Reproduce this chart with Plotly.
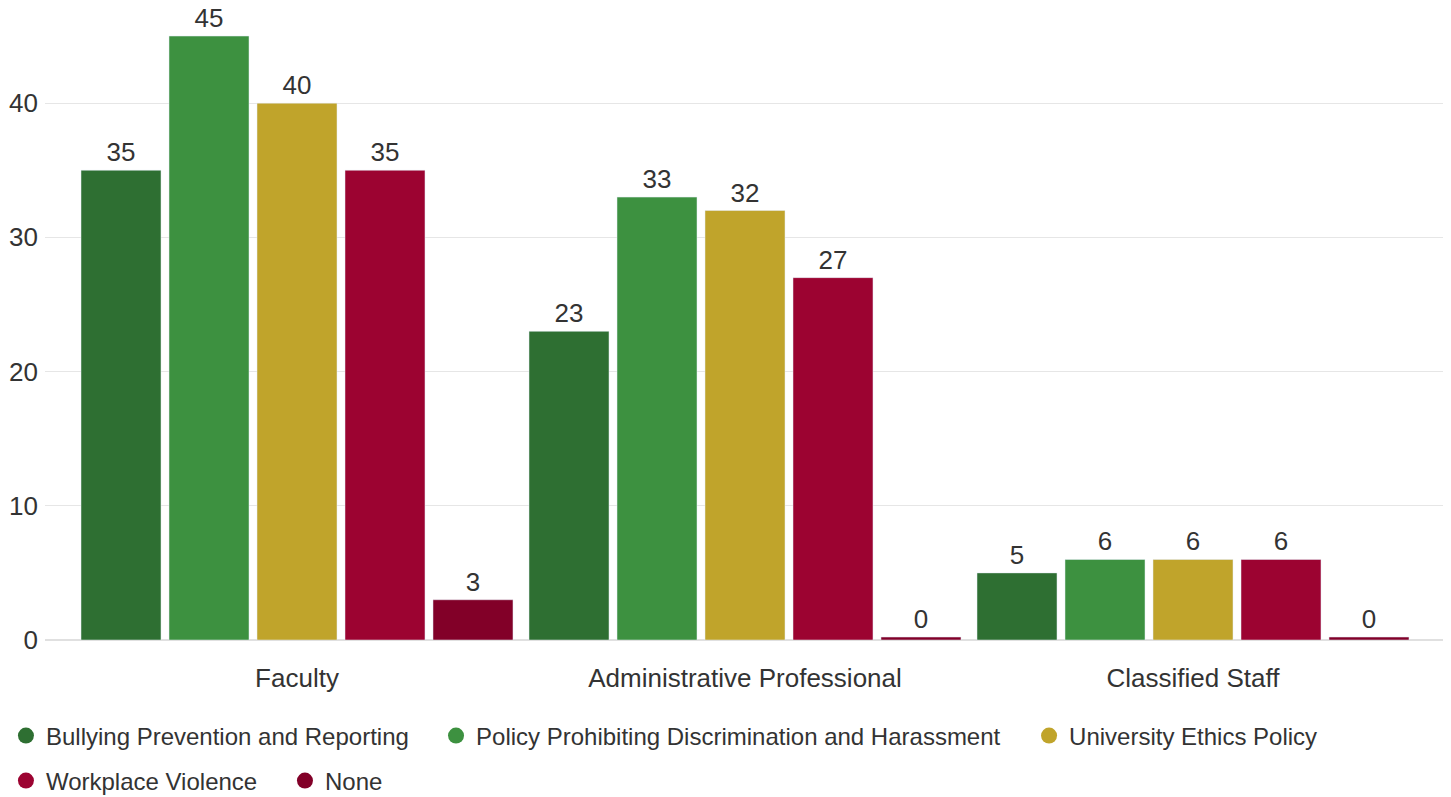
import plotly.graph_objects as go

categories = ["Faculty", "Administrative Professional", "Classified Staff"]
series_names = [
    "Bullying Prevention and Reporting",
    "Policy Prohibiting Discrimination and Harassment",
    "University Ethics Policy",
    "Workplace Violence",
    "None",
]
bullying = [35, 23, 5]
policy = [45, 33, 6]
ethics = [40, 32, 6]
violence = [35, 27, 6]
none_vals = [3, 0, 0]
series_values = [bullying, policy, ethics, violence, none_vals]
colors = ["#2E6F32", "#3D9140", "#C0A42B", "#9C0331", "#820028"]
y_ticks = [0, 10, 20, 30, 40]

FONT = "Liberation Sans, Arial, sans-serif"
TXT = "#333333"
MIN_VIS = 0.22  # minimum visible height for zero bars

# legend entry placement (paper coords): (x, y)
legend_pos = [(-0.0279, -0.1519), (0.2793, -0.1519), (0.7029, -0.1519),
              (-0.0279, -0.2231), (0.1714, -0.2231)]

fig = go.Figure()
for name, vals, col in zip(series_names, series_values, colors):
    shown = [v if v > 0 else MIN_VIS for v in vals]
    fig.add_trace(go.Bar(
        x=categories, y=shown, name=name, marker_color=col,
        text=[str(v) for v in vals], textposition="outside",
        textfont=dict(size=26, color=TXT, family=FONT),
        cliponaxis=False, showlegend=False, hoverinfo="skip",
    ))

legend_layout = {}
for i, (name, col) in enumerate(zip(series_names, colors)):
    key = "legend" if i == 0 else f"legend{i + 1}"
    fig.add_trace(go.Scatter(
        x=[None], y=[None], mode="markers", name=name,
        marker=dict(symbol="circle", size=20, color=col),
        legend=key,
    ))
    lx, ly = legend_pos[i]
    legend_layout[key] = dict(
        orientation="h", x=lx, xanchor="left", y=ly, yanchor="middle",
        font=dict(size=24, color=TXT, family=FONT), itemsizing="trace",
        bgcolor="rgba(0,0,0,0)",
    )

fig.update_layout(
    width=1443, height=789,
    margin=dict(l=37, r=6, t=0, b=157, autoexpand=False),
    paper_bgcolor="white", plot_bgcolor="white",
    font=dict(family=FONT, color=TXT, size=26),
    barmode="group", bargap=0.0179, bargroupgap=0.0909,
    xaxis=dict(range=[-0.5625, 2.5625], showgrid=False, showline=False,
               ticks="", ticklabelstandoff=20, automargin=False,
               tickfont=dict(size=26, color=TXT, family=FONT)),
    yaxis=dict(range=[0, 47.09], tickvals=y_ticks, showgrid=True,
               gridcolor="#e6e6e6", gridwidth=1, zeroline=True,
               zerolinecolor="#e0e0e0", zerolinewidth=2,
               ticks="", ticklabelstandoff=6, automargin=False,
               tickfont=dict(size=26, color=TXT, family=FONT)),
    **legend_layout,
)

fig.write_html("out.html")
